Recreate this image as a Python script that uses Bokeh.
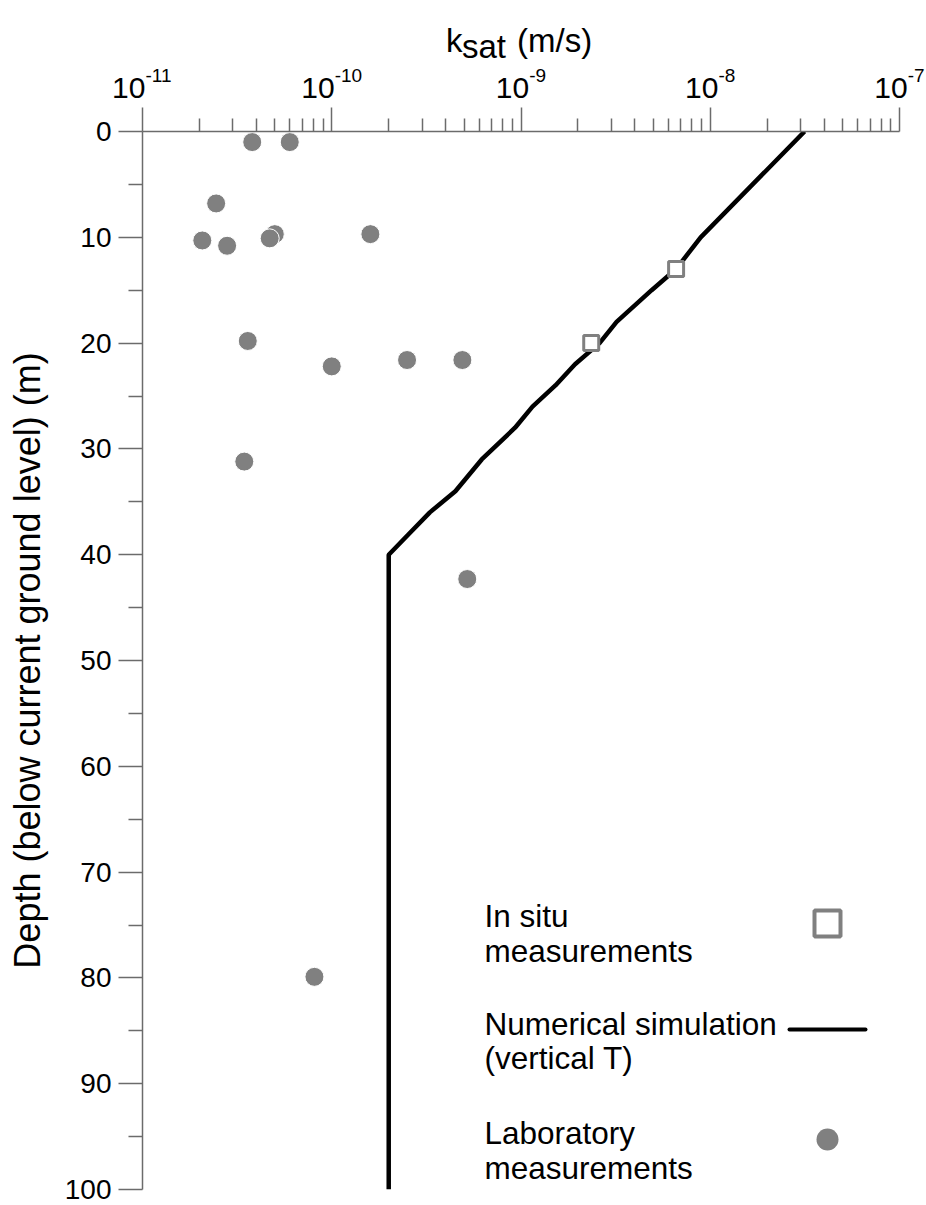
import math
from bokeh.plotting import figure
from bokeh.layouts import column
from bokeh.models import Range1d, FixedTicker, Label, BoxAnnotation
from bokeh.core.properties import value
from bokeh.embed import file_html
from bokeh.resources import INLINE

# ---------------- data ----------------
# Laboratory measurements (k_sat in m/s, depth in m)
lab_k = [3.8e-11, 6.0e-11, 2.45e-11, 2.07e-11, 2.8e-11, 5.0e-11, 4.7e-11,
         1.6e-10, 3.6e-11, 1.0e-10, 2.5e-10, 4.9e-10, 3.45e-11, 5.2e-10, 8.1e-11]
lab_depth = [1.0, 1.0, 6.8, 10.3, 10.8, 9.7, 10.1,
             9.7, 19.8, 22.2, 21.6, 21.6, 31.2, 42.3, 79.9]

# In situ measurements
insitu_k = [6.6e-9, 2.35e-9]
insitu_depth = [13.0, 20.0]

# Numerical simulation (vertical T)
sim_depth = [0, 10, 13, 15, 18, 20, 22, 24, 26, 28, 31, 34, 36, 38, 40, 100]
sim_k = [3.15e-8, 8.9e-9, 6.6e-9, 4.9e-9, 3.2e-9, 2.6e-9, 1.93e-9, 1.52e-9,
         1.15e-9, 9.3e-10, 6.2e-10, 4.5e-10, 3.3e-10, 2.57e-10, 2.0e-10, 2.0e-10]

# ticks
x_major = [1e-11, 1e-10, 1e-9, 1e-8, 1e-7]
x_exponents = ["-11", "-10", "-9", "-8", "-7"]
x_minor = [m * d for d in x_major[:-1] for m in range(2, 10)]
y_major = list(range(0, 101, 10))
y_minor = list(range(5, 100, 10))

# ---------------- layout constants ----------------
W, H = 926, 1205
HT = 105                      # height of the header strip (title + tick labels)
BL, BR, BT, BB = 142, 27, 26, 16
FW = W - BL - BR
FONT = "Liberation Sans"
AX = "#6b6b6b"
GREY = "#808080"

lo, hi = math.log10(x_major[0]), math.log10(x_major[-1])
px_per_dec = FW / (hi - lo)

# ---------------- header strip: title and top tick labels ----------------
top = figure(width=W, height=HT, x_axis_type="log",
             x_range=Range1d(10 ** (lo - BL / px_per_dec), 10 ** (hi + BR / px_per_dec)),
             y_range=Range1d(0, HT), x_axis_location=None, y_axis_location=None,
             output_backend="svg", toolbar_location=None,
             min_border_left=0, min_border_right=0, min_border_top=0, min_border_bottom=0)
top.frame_align = False
top.outline_line_color = None
top.xgrid.visible = False
top.ygrid.visible = False

BIG, SUP = 30, 19
w10 = 1.112 * BIG
sup_w = [SUP * (0.333 + 0.556 * (len(e) - 1)) for e in x_exponents]
offs = [(w10 - s) / 2 for s in sup_w]
top.text(x=x_major, y=[HT - 87] * len(x_major), text=["10"] * len(x_major),
         x_offset=offs, text_align="right", text_baseline="alphabetic",
         text_font=value(FONT), text_font_size=value(f"{BIG}px"), text_color="black")
top.text(x=x_major, y=[HT - 75] * len(x_major), text=x_exponents,
         x_offset=offs, text_align="left", text_baseline="alphabetic",
         text_font=value(FONT), text_font_size=value(f"{SUP}px"), text_color="black")

xc = x_major[2]
top.text(x=[xc, xc, xc], y=[HT - 40, HT - 46, HT - 40], text=["k", "sat", "(m/s)"],
         x_offset=[-75, -59, -4], text_align="left", text_baseline="alphabetic",
         text_font=value(FONT), text_font_size=value("33px"), text_color="black")

# ---------------- main plot ----------------
HM = H - HT
p = figure(width=W, height=HM, x_axis_type="log", x_axis_location="above",
           x_range=Range1d(x_major[0], x_major[-1]), y_range=Range1d(100, 0),
           output_backend="svg", toolbar_location=None,
           min_border_left=BL, min_border_right=BR,
           min_border_top=BT, min_border_bottom=BB)
p.frame_align = False
p.outline_line_color = None
p.xgrid.visible = False
p.ygrid.visible = False

xa = p.xaxis[0]
xa.ticker = FixedTicker(ticks=x_major, minor_ticks=x_minor)
xa.major_label_overrides = {v: "" for v in x_major}
ya = p.yaxis[0]
ya.ticker = FixedTicker(ticks=y_major, minor_ticks=y_minor)

for ax in (xa, ya):
    ax.axis_line_color = AX
    ax.axis_line_width = 1.5
    ax.major_tick_line_color = AX
    ax.major_tick_line_width = 1.5
    ax.minor_tick_line_color = AX
    ax.minor_tick_line_width = 1.5
    ax.major_tick_in = 0
    ax.minor_tick_in = 0
    ax.major_tick_out = 24
    ax.major_label_text_font = FONT
    ax.major_label_text_color = "black"

xa.minor_tick_out = 13
xa.major_label_text_font_size = "1px"
xa.major_label_standoff = 0

ya.minor_tick_out = 14
ya.major_label_text_font_size = "28px"
ya.major_label_standoff = 7
ya.axis_label = "Depth (below current ground level) (m)"
ya.axis_label_text_font = FONT
ya.axis_label_text_font_size = "36px"
ya.axis_label_text_font_style = "normal"
ya.axis_label_text_color = "black"
ya.axis_label_standoff = 14

p.line(sim_k, sim_depth, line_color="black", line_width=4.5)
p.scatter(lab_k, lab_depth, marker="circle", size=19, fill_color=GREY,
          line_color="white", line_width=1)
p.scatter(insitu_k, insitu_depth, marker="square", size=15, fill_color="white",
          line_color=GREY, line_width=3)

# ---------------- legend (drawn by hand: text left, key right) ----------------
def fy(canvas_y):
    return H - BB - canvas_y

def lab(x, y, text, size):
    p.add_layout(Label(x=x, y=y, x_units="screen", y_units="screen", text=text,
                       text_font=FONT, text_font_size=size, text_color="black",
                       text_baseline="alphabetic", text_align="left"))

lx = 484 - BL
for text, cy in [("In situ", 915), ("measurements", 950),
                 ("Numerical simulation", 1023), ("(vertical T)", 1057),
                 ("Laboratory", 1132), ("measurements", 1167)]:
    lab(lx, fy(cy), text, "31.5px")

def box(l, r, t, b, **kw):
    p.add_layout(BoxAnnotation(left=l - BL, right=r - BL, top=fy(t), bottom=fy(b),
                               left_units="screen", right_units="screen",
                               top_units="screen", bottom_units="screen", **kw))

box(814, 840, 910, 936, fill_color="white", fill_alpha=1,
    line_color=GREY, line_width=4, line_alpha=1)
box(787, 867, 1027, 1031, fill_color="black", fill_alpha=1,
    line_color=None, border_radius=2)
box(816, 838, 1128, 1150, fill_color=GREY, fill_alpha=1,
    line_color=None, border_radius=11)

layout = column(top, p, spacing=0)
open("out.html", "w").write(file_html(layout, INLINE))
